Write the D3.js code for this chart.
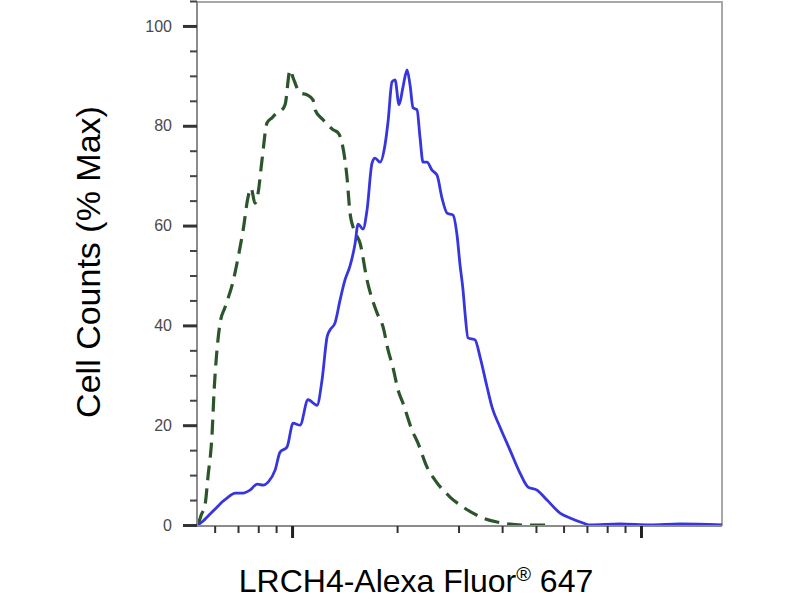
<!DOCTYPE html>
<html>
<head>
<meta charset="utf-8">
<script src="https://cdn.jsdelivr.net/npm/d3@7/dist/d3.min.js"></script>
<style>
  html, body { margin: 0; padding: 0; background: #fff; }
  svg { display: block; }
  text { font-family: "Liberation Sans", Arial, sans-serif; }
</style>
</head>
<body>
<svg id="chart" width="800" height="600"></svg>
<script>
// ---- data ----
const controlX = [538, 549, 563, 574, 590, 598, 606, 622, 643, 678, 700, 724, 748, 763, 783, 799, 820, 848, 876, 906, 930, 955, 987, 1007, 1054, 1104, 1148, 1164, 1227, 1311, 1355, 1418, 1437, 1466, 1515, 1566, 1640, 1752, 1823, 1884, 1947, 2012, 2080, 2207, 2296, 2437, 2569, 2836, 3090, 3526, 3867, 4590, 5309];
const controlY = [0, 2.0, 4.0, 9.6, 18.4, 27.1, 33.1, 40.5, 43.7, 48.9, 53.5, 59.1, 65.7, 67.5, 64.5, 66.5, 73.1, 80.6, 81.6, 82.6, 83.0, 84.2, 91.2, 89.6, 86.6, 86.2, 85.2, 83.2, 81.2, 79.2, 78.6, 73.1, 69.7, 62.5, 58.7, 56.5, 49.1, 42.5, 39.7, 35.1, 31.5, 27.1, 24.4, 19.0, 16.4, 11.6, 9.0, 5.6, 3.6, 1.4, 0.6, 0, 0];

const sampleX = [538, 556, 571, 590, 610, 630, 651, 687, 724, 758, 794, 826, 854, 894, 924, 967, 1007, 1054, 1111, 1179, 1219, 1260, 1285, 1328, 1373, 1418, 1466, 1515, 1546, 1597, 1640, 1695, 1729, 1787, 1847, 1884, 1934, 1973, 2026, 2080, 2136, 2178, 2222, 2281, 2327, 2373, 2437, 2518, 2603, 2690, 2781, 2893, 2970, 3030, 3090, 3131, 3194, 3345, 3457, 3620, 3742, 3945, 4214, 4501, 4746, 5035, 5379, 5861, 6261, 6822, 7143, 8706, 10612, 12933, 17070];
const sampleY = [0, 0.8, 1.6, 2.6, 3.6, 4.6, 5.4, 6.4, 6.4, 7.0, 8.2, 8.0, 8.6, 11.0, 14.6, 15.6, 20.4, 20.0, 25.1, 24.0, 29.1, 37.7, 39.1, 40.5, 45.1, 49.1, 51.9, 56.3, 60.3, 59.3, 63.1, 72.5, 73.5, 72.7, 76.2, 80.8, 88.8, 89.2, 84.2, 87.8, 91.2, 88.2, 83.6, 83.2, 77.6, 72.7, 72.7, 71.1, 70.1, 65.5, 62.5, 62.1, 58.1, 52.1, 47.1, 42.5, 37.5, 37.1, 33.7, 27.7, 23.6, 19.6, 15.0, 10.4, 7.6, 7.0, 5.0, 2.4, 1.4, 0.4, 0, 0.2, 0, 0.2, 0];

const yMajorTicks = [0, 20, 40, 60, 80, 100];
const yMinorTicks = [5, 10, 15, 25, 30, 35, 45, 50, 55, 65, 70, 75, 85, 90, 95, 105];
const xMajorTicks = [1000, 10000];
const xMinorTicks = [600, 700, 800, 900, 2000, 3000, 4000, 5000, 6000, 7000, 8000, 9000];

const xTitle = "LRCH4-Alexa Fluor";
const xTitleSup = "®";
const xTitleEnd = " 647";
const yTitle = "Cell Counts (% Max)";

// ---- layout ----
const mLeft = 197, mRight = 722, mTop = 1, mBottom = 525;
const svg = d3.select("#chart");

const x = d3.scaleLog().domain([534, 17070]).range([mLeft, mRight]);
const y = d3.scaleLinear().domain([0, 105]).range([mBottom, mTop]);

// frame (top and right)
svg.append("path")
  .attr("d", `M${mLeft},${mTop + 1}H${mRight}V${mBottom + 1}`)
  .attr("fill", "none").attr("stroke", "#a8a8a8").attr("stroke-width", 2);

// curves
const line = d3.line().x(d => x(d[0])).y(d => y(d[1])).curve(d3.curveMonotoneX);

svg.append("path")
  .datum(d3.zip(controlX, controlY))
  .attr("d", line)
  .attr("fill", "none")
  .attr("stroke", "#2b552b")
  .attr("stroke-width", 3.2)
  .attr("stroke-dasharray", "15,8");

svg.append("path")
  .datum(d3.zip(sampleX, sampleY))
  .attr("d", line)
  .attr("fill", "none")
  .attr("stroke", "#3636dc")
  .attr("stroke-width", 2.8)
  .attr("stroke-linejoin", "round");

// axis lines
svg.append("line").attr("x1", mLeft).attr("x2", mLeft).attr("y1", mTop).attr("y2", mBottom + 1)
  .attr("stroke", "#8c8c8c").attr("stroke-width", 2);
svg.append("line").attr("x1", mLeft).attr("x2", mRight).attr("y1", mBottom + 1).attr("y2", mBottom + 1)
  .attr("stroke", "#8c8c8c").attr("stroke-width", 2);

// y axis
const yMajor = svg.append("g").attr("transform", `translate(${mLeft},0)`)
  .call(d3.axisLeft(y).tickValues(yMajorTicks).tickSize(14).tickPadding(11).tickFormat(d3.format("d")));
yMajor.select(".domain").remove();
yMajor.selectAll(".tick line").attr("stroke", "#333").attr("stroke-width", 3);
yMajor.selectAll(".tick text").attr("fill", "#4a4a4a").style("font-size", "16px")
  .style("font-family", "'Liberation Sans', Arial, sans-serif");

const yMinor = svg.append("g").attr("transform", `translate(${mLeft},0)`)
  .call(d3.axisLeft(y).tickValues(yMinorTicks).tickSize(7).tickFormat(""));
yMinor.select(".domain").remove();
yMinor.selectAll(".tick line").attr("stroke", "#444").attr("stroke-width", 2);

// x axis
const xMajor = svg.append("g").attr("transform", `translate(0,${mBottom + 1})`)
  .call(d3.axisBottom(x).tickValues(xMajorTicks).tickSize(12).tickFormat(""));
xMajor.select(".domain").remove();
xMajor.selectAll(".tick line").attr("stroke", "#222").attr("stroke-width", 3);

const xMinor = svg.append("g").attr("transform", `translate(0,${mBottom + 1})`)
  .call(d3.axisBottom(x).tickValues(xMinorTicks).tickSize(7).tickFormat(""));
xMinor.select(".domain").remove();
xMinor.selectAll(".tick line").attr("stroke", "#333").attr("stroke-width", 2);

// titles
const xt = svg.append("text")
  .attr("x", 416).attr("y", 592)
  .attr("text-anchor", "middle")
  .attr("fill", "#000")
  .style("font-size", "32px");
xt.append("tspan").text(xTitle);
xt.append("tspan").text(xTitleSup).attr("dy", -11).style("font-size", "20px");
xt.append("tspan").text(xTitleEnd).attr("dy", 11);

svg.append("text")
  .attr("transform", "translate(100,262) rotate(-90)")
  .attr("text-anchor", "middle")
  .attr("fill", "#000")
  .style("font-size", "34px")
  .text(yTitle);
</script>
</body>
</html>
